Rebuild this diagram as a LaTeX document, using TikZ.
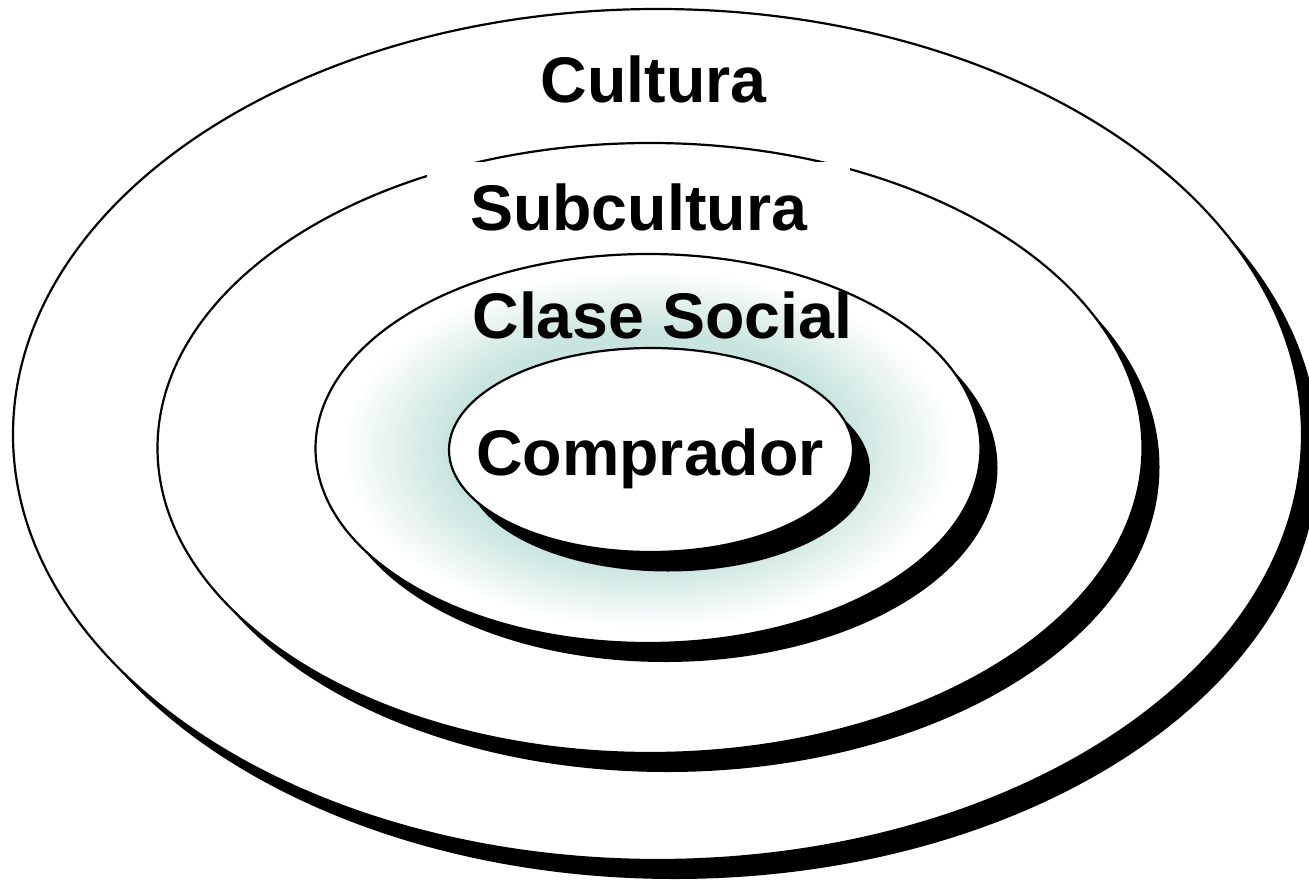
\documentclass[tikz,border=0pt]{standalone}
\usepackage{fontspec}
\setmainfont{Liberation Sans}
\definecolor{glowteal}{RGB}{200,228,222}
\pgfdeclareradialshading{glow}{\pgfpoint{0bp}{0bp}}{color(0bp)=(glowteal); color(15bp)=(glowteal); color(23bp)=(white); color(25bp)=(white); color(50bp)=(white)}
\tikzset{
  ring/.style={draw=black, line width=2.2pt, fill=white},
  shadowfill/.style={fill=black},
  lbl/.style={font=\bfseries\fontsize{64.5}{70}\selectfont, text=black, inner sep=0pt, anchor=base}
}
\begin{document}
\begin{tikzpicture}[x=1pt, y=-1pt]
\useasboundingbox (0,0) rectangle (1309,883);
% outer: Cultura
\fill[shadowfill] (674.5,453.5) ellipse [x radius=644.5pt, y radius=425.5pt];
\path[ring] (657.5,434.5) ellipse [x radius=644.5pt, y radius=425.5pt];
\node[lbl] (cultura) at (653.5,102) {Cultura};
% ring 2: Subcultura
\fill[shadowfill] (667,467) ellipse [x radius=492.5pt, y radius=305pt];
\path[ring] (650,448) ellipse [x radius=492.5pt, y radius=305pt];
\node[lbl, fill=white, minimum width=423pt, text height=68pt, text depth=20pt] (subcultura) at (638.5,230) {Subcultura};
% ring 3: Clase Social
\fill[shadowfill] (665,467.5) ellipse [x radius=332.5pt, y radius=194.5pt];
\path[draw=black, line width=2.2pt, shading=glow] (648,448.5) ellipse [x radius=332.5pt, y radius=194.5pt];
\node[lbl] (clase) at (662.5,338) {Clase Social};
% ring 4: Comprador
\fill[shadowfill] (668,469.5) ellipse [x radius=202pt, y radius=102pt];
\path[ring] (651,450) ellipse [x radius=202pt, y radius=102pt];
\node[lbl] (comprador) at (650,475) {Comprador};
\end{tikzpicture}
\end{document}
